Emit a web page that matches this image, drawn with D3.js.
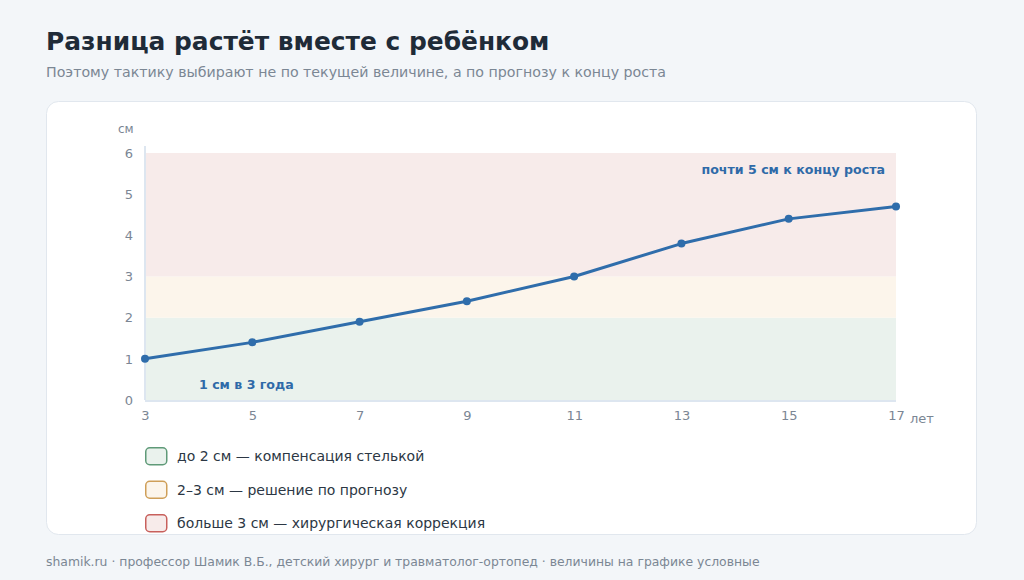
<!DOCTYPE html>
<html>
<head>
<meta charset="utf-8">
<script src="https://cdn.jsdelivr.net/npm/d3@7"></script>
<style>
  html, body { margin: 0; padding: 0; background: #f3f6f9; }
  svg { display: block; font-family: "DejaVu Sans", sans-serif; }
</style>
</head>
<body>
<svg id="chart" width="1024" height="580"></svg>
<script>
// данные
var ages = [3, 5, 7, 9, 11, 13, 15, 17];
var diff = [1.0, 1.4, 1.9, 2.4, 3.0, 3.8, 4.4, 4.7];
var yTicks = [0, 1, 2, 3, 4, 5, 6];
var zones = [
  { from: 0, to: 2, fill: "#eaf2ed", stroke: "#5f9a78", label: "до 2 см — компенсация стелькой" },
  { from: 2, to: 3, fill: "#fcf5eb", stroke: "#cf9f58", label: "2–3 см — решение по прогнозу" },
  { from: 3, to: 6, fill: "#f7ebea", stroke: "#c8605c", label: "больше 3 см — хирургическая коррекция" }
];

var svg = d3.select("#chart");

svg.append("text")
  .attr("x", 46).attr("y", 50)
  .style("font-size", "24.9px").style("font-weight", "bold")
  .style("fill", "#1f2b38")
  .text("Разница растёт вместе с ребёнком");

svg.append("text")
  .attr("x", 46).attr("y", 77)
  .style("font-size", "14.2px").style("fill", "#7b8794")
  .text("Поэтому тактику выбирают не по текущей величине, а по прогнозу к концу роста");

// карточка
svg.append("defs").append("clipPath").attr("id", "cardClip")
  .append("rect")
  .attr("x", 46).attr("y", 101).attr("width", 931).attr("height", 434).attr("rx", 12);

svg.append("rect")
  .attr("x", 46.5).attr("y", 101.5).attr("width", 930).attr("height", 433).attr("rx", 12)
  .style("fill", "#fff").style("stroke", "#e1e7ee");

var card = svg.append("g").attr("clip-path", "url(#cardClip)");

var x = d3.scaleLinear().domain([3, 17]).range([145, 896]);
var y = d3.scaleLinear().domain([0, 6]).range([400, 153]);

card.selectAll(".zone").data(zones).enter().append("rect")
  .attr("class", "zone")
  .attr("x", x(3)).attr("width", x(17) - x(3))
  .attr("y", function(d) { return y(d.to); })
  .attr("height", function(d) { return y(d.from) - y(d.to); })
  .style("fill", function(d) { return d.fill; });

// оси
var yAxis = card.append("g")
  .attr("transform", "translate(" + x(3) + ",0)")
  .call(d3.axisLeft(y).tickValues(yTicks).tickSize(0).tickPadding(12).tickFormat(d3.format("d")));
yAxis.select(".domain").remove();
yAxis.selectAll("text").style("font-size", "13px").style("fill", "#7b8694").style("font-family", "DejaVu Sans");

var xAxis = card.append("g")
  .attr("transform", "translate(0," + y(0) + ")")
  .call(d3.axisBottom(x).tickValues(ages).tickSize(0).tickPadding(11).tickFormat(d3.format("d")));
xAxis.select(".domain").remove();
xAxis.selectAll("text").style("font-size", "13px").style("fill", "#7b8694").style("font-family", "DejaVu Sans");

card.append("line")
  .attr("x1", x(3)).attr("x2", x(3)).attr("y1", 146).attr("y2", y(0))
  .style("stroke", "#dde6f0").style("stroke-width", 2);
card.append("line")
  .attr("x1", x(3)).attr("x2", x(17)).attr("y1", y(0) + 1).attr("y2", y(0) + 1)
  .style("stroke", "#dde6f0").style("stroke-width", 2);

card.append("text")
  .attr("x", 118).attr("y", 133)
  .style("font-size", "12px").style("fill", "#7b8694")
  .text("см");
card.append("text")
  .attr("x", x(17) + 14).attr("y", y(0) + 23)
  .style("font-size", "13px").style("fill", "#7b8694")
  .text("лет");

// линия
var pts = ages.map(function(a, i) { return [a, diff[i]]; });
var line = d3.line()
  .x(function(d) { return x(d[0]); })
  .y(function(d) { return y(d[1]); });

card.append("path")
  .datum(pts)
  .attr("d", line)
  .style("fill", "none").style("stroke", "#2f6dab").style("stroke-width", 3)
  .style("stroke-linejoin", "round");

card.selectAll(".dot").data(pts).enter().append("circle")
  .attr("cx", function(d) { return x(d[0]); })
  .attr("cy", function(d) { return y(d[1]); })
  .attr("r", 4)
  .style("fill", "#2f6dab");

card.append("text")
  .attr("x", 199).attr("y", 389)
  .style("font-size", "12.6px").style("font-weight", "bold").style("fill", "#2f6aa8")
  .text("1 см в 3 года");
card.append("text")
  .attr("x", 885).attr("y", 174).attr("text-anchor", "end")
  .style("font-size", "12.6px").style("font-weight", "bold").style("fill", "#2f6aa8")
  .text("почти 5 см к концу роста");

// легенда
var legend = card.selectAll(".leg").data(zones).enter().append("g")
  .attr("class", "leg")
  .attr("transform", function(d, i) { return "translate(145," + (447 + i * 33.5) + ")"; });
legend.append("rect")
  .attr("x", 0.75).attr("y", 0.75).attr("width", 21).attr("height", 17).attr("rx", 4)
  .style("fill", function(d) { return d.fill; })
  .style("stroke", function(d) { return d.stroke; })
  .style("stroke-width", 1.5);
legend.append("text")
  .attr("x", 32).attr("y", 14)
  .style("font-size", "14px").style("fill", "#2c3744")
  .text(function(d) { return d.label; });

svg.append("text")
  .attr("x", 46).attr("y", 566)
  .style("font-size", "12.4px").style("fill", "#7b8794")
  .text("shamik.ru · профессор Шамик В.Б., детский хирург и травматолог-ортопед · величины на графике условные");
</script>
</body>
</html>
